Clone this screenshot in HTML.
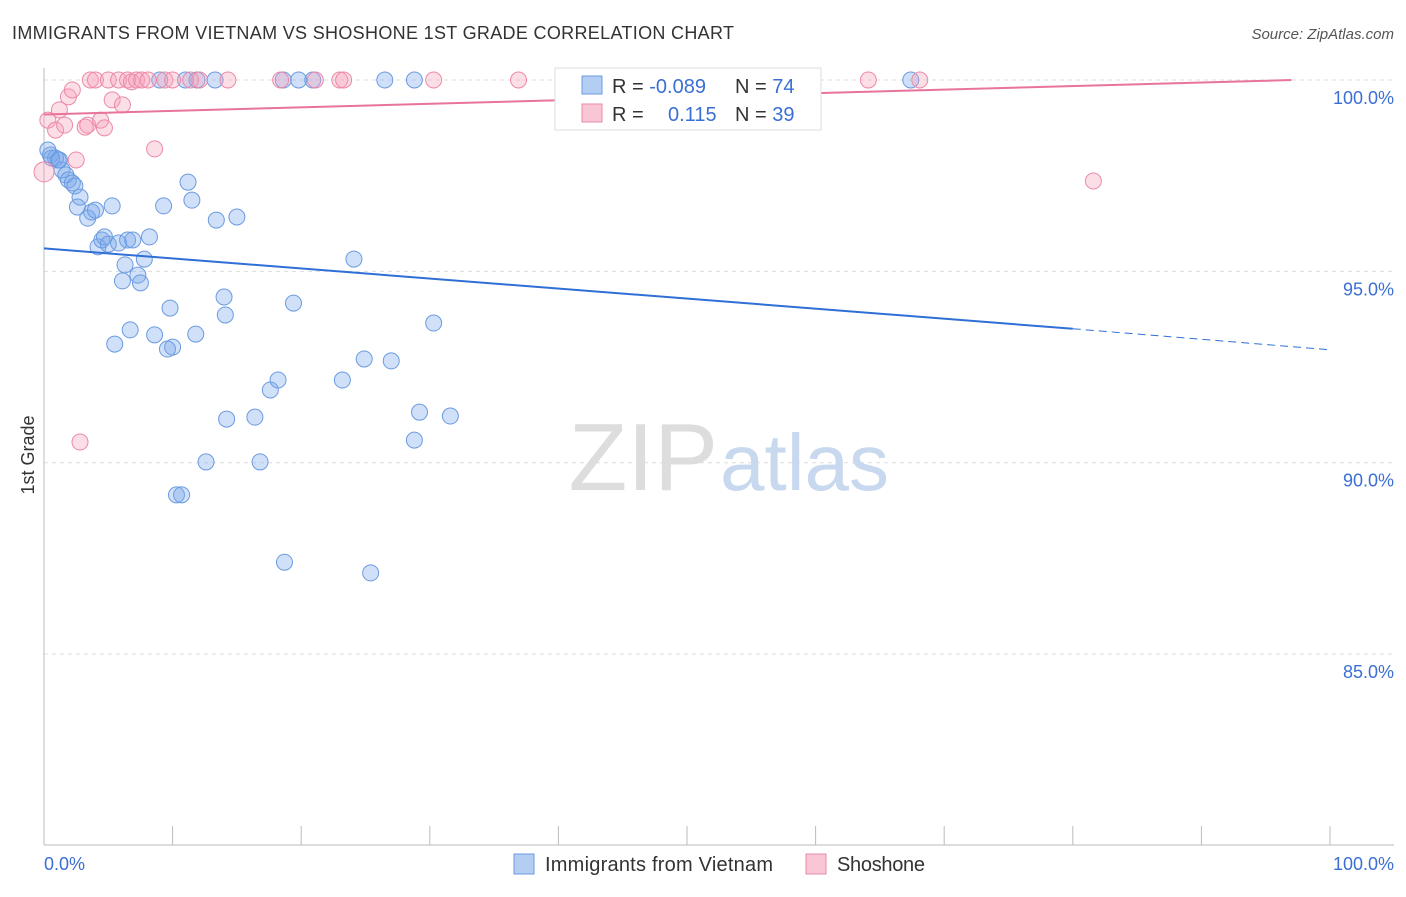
<!DOCTYPE html>
<html><head><meta charset="utf-8"><style>
body{margin:0;background:#fff;font-family:"Liberation Sans",sans-serif}
svg text{font-family:"Liberation Sans",sans-serif}
</style></head><body>
<svg id="c" width="1406" height="892">
<text x="12" y="39" font-size="18" fill="#333" textLength="722">IMMIGRANTS FROM VIETNAM VS SHOSHONE 1ST GRADE CORRELATION CHART</text>
<text x="1394" y="39" font-size="15" fill="#555" font-style="italic" text-anchor="end">Source: ZipAtlas.com</text>
<g id="grid"></g>
<text x="718" y="490" font-size="96" fill="#ddd" font-family="Liberation Serif" text-anchor="end">ZIP</text>
<text x="720" y="490" font-size="80" fill="#c8d8ee">atlas</text>
<g id="axes"></g>
<g id="pts"></g>
<g id="trend"></g>
<text transform="translate(34,455) rotate(-90)" font-size="18" fill="#333" text-anchor="middle">1st Grade</text>
<text x="44" y="870" font-size="18" fill="#3b6fd4">0.0%</text>
<text x="1394" y="870" font-size="18" fill="#3b6fd4" text-anchor="end">100.0%</text>
<g>
<rect x="555" y="68" width="266" height="62" fill="#fff" stroke="#ddd"/>
<rect x="582" y="76" width="20" height="18" fill="#b3cdf3" stroke="#6b9be0"/>
<rect x="582" y="104" width="20" height="18" fill="#f8c6d4" stroke="#eb8aa8"/>
<text x="612" y="93" font-size="20" fill="#333">R = <tspan fill="#3b6fd4">-0.089</tspan></text>
<text x="735" y="93" font-size="20" fill="#333">N = <tspan fill="#3b6fd4">74</tspan></text>
<text x="612" y="121" font-size="20" fill="#333">R = <tspan fill="#3b6fd4" x="668">0.115</tspan></text>
<text x="735" y="121" font-size="20" fill="#333">N = <tspan fill="#3b6fd4">39</tspan></text>
</g>
<g>
<rect x="514" y="854" width="20" height="20" fill="#b3cdf3" stroke="#6b9be0"/>
<text x="545" y="871" font-size="20" fill="#333" textLength="228">Immigrants from Vietnam</text>
<rect x="806" y="854" width="20" height="20" fill="#f8c6d4" stroke="#eb8aa8"/>
<text x="837" y="871" font-size="20" fill="#333" textLength="88">Shoshone</text>
</g>
</svg>
<script>
const yTicks=[100,95,90,85];
const yTickLabels=["100.0%","95.0%","90.0%","85.0%"];
const blueX=[0.5,0.9,1.1,1.4,1.7,1.9,2.2,2.4,2.8,2.6,3.4,3.7,4.0,4.2,4.5,4.7,5.0,5.3,5.8,6.3,6.5,6.9,7.3,7.5,6.1,7.8,8.2,9.0,9.3,9.8,10.0,9.6,8.6,6.7,5.5,11.0,11.2,11.5,11.8,11.9,13.4,13.3,14.0,14.1,14.2,12.6,15.0,16.4,16.8,17.6,18.2,18.6,18.7,19.4,19.8,20.9,23.2,24.1,24.9,25.4,26.5,27.0,28.8,28.8,29.2,30.3,31.6,43.2,67.4,10.3,10.7,0.6,0.3,1.2];
const blueY=[98.04,97.96,97.91,97.65,97.52,97.39,97.31,97.23,96.94,96.68,96.39,96.55,96.6,95.64,95.82,95.9,95.71,96.71,95.74,95.17,95.82,95.82,94.9,94.7,94.75,95.32,95.9,100,96.71,94.04,93.02,92.97,93.34,93.47,93.1,100,97.33,96.86,93.36,100,96.34,100,94.33,93.86,91.14,90.02,96.42,91.19,90.02,91.9,92.16,100,87.4,94.17,100,100,92.16,95.32,92.71,87.12,100,92.66,100,90.59,91.32,93.65,91.22,100,100,89.16,89.16,97.96,98.17,97.91];
const pinkX=[0,0.3,0.9,1.2,1.6,1.9,2.2,2.5,2.8,3.2,3.4,3.6,4.0,4.4,4.7,5.0,5.3,5.8,6.1,6.5,6.8,7.2,7.6,8.1,8.6,9.4,10.0,11.4,12.1,14.3,18.4,21.1,23.0,23.3,30.3,36.9,64.1,68.1,81.6];
const pinkY=[97.6,98.95,98.69,99.22,98.82,99.56,99.74,97.91,90.54,98.77,98.82,100,100,98.95,98.75,100,99.48,100,99.35,100,99.95,100,100,100,98.2,100,100,100,100,100,100,100,100,100,100,100,100,100,97.36];
const blueTrend=[[0,95.6],[80,93.5],[100,92.95]];
const pinkTrend=[[0,99.1],[97,100]];
const NS='http://www.w3.org/2000/svg';
const xs=v=>44+v*12.86, ys=v=>80+(100-v)*38.27;
function mk(t,a,p){const e=document.createElementNS(NS,t);for(const k in a)e.setAttribute(k,a[k]);p.appendChild(e);return e;}
const grid=document.getElementById('grid'),axes=document.getElementById('axes'),pts=document.getElementById('pts'),tr=document.getElementById('trend');
yTicks.forEach((v,i)=>{
 const l=mk('line',{x1:44,x2:1394,y1:ys(v),y2:ys(v),stroke:'#ddd','stroke-dasharray':'4,4'},grid);
 
 
 const t=mk('text',{x:1394,y:ys(v)+24,'font-size':18,fill:'#3b6fd4','text-anchor':'end'},grid);
 t.textContent=yTickLabels[i];
 
 
});
mk('line',{x1:44,x2:44,y1:68,y2:845,stroke:'#bbb'},axes);
mk('line',{x1:44,x2:1394,y1:845,y2:845,stroke:'#bbb'},axes);
for(let i=0;i<=10;i++){const t=mk('line',{x1:xs(i*10),x2:xs(i*10),y1:826,y2:845,stroke:'#bbb'},axes);
 
 }
blueX.forEach((x,i)=>{const c=mk('circle',{cx:xs(x),cy:ys(blueY[i]),r:8,fill:'rgba(120,165,235,0.35)',stroke:'#6b9be0','stroke-width':1},pts);
 
 });
pinkX.forEach((x,i)=>{const c=mk('circle',{cx:xs(x),cy:ys(pinkY[i]),r:i==0?10:8,fill:'rgba(245,160,185,0.35)',stroke:'#eb8aa8','stroke-width':1},pts);
 
 });
const b1=mk('line',{x1:xs(blueTrend[0][0]),y1:ys(blueTrend[0][1]),x2:xs(blueTrend[1][0]),y2:ys(blueTrend[1][1]),stroke:'#2f6fd6','stroke-width':2},tr);


const b2=mk('line',{x1:xs(blueTrend[1][0]),y1:ys(blueTrend[1][1]),x2:xs(blueTrend[2][0]),y2:ys(blueTrend[2][1]),stroke:'#2f6fd6','stroke-width':1,'stroke-dasharray':'8,5'},tr);


const p1=mk('line',{x1:xs(pinkTrend[0][0]),y1:ys(pinkTrend[0][1]),x2:xs(pinkTrend[1][0]),y2:ys(pinkTrend[1][1]),stroke:'#e8739b','stroke-width':2},tr);


</script>
</body></html>
